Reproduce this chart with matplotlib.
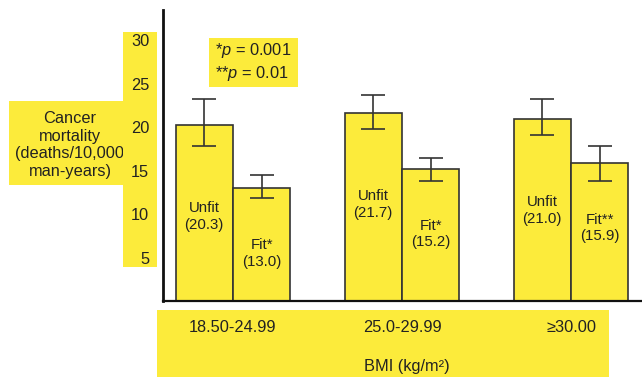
import matplotlib
matplotlib.use("Agg")
import matplotlib.pyplot as plt
from matplotlib.patches import Rectangle

plt.rcParams['font.family'] = ['Liberation Sans', 'DejaVu Sans']
plt.rcParams['mathtext.fontset'] = 'custom'
plt.rcParams['mathtext.it'] = 'Liberation Sans:italic'
plt.rcParams['mathtext.rm'] = 'Liberation Sans'

# ---- data ----
categories = ["18.50-24.99", "25.0-29.99", "\u226530.00"]
unfit = [20.3, 21.7, 21.0]
fit = [13.0, 15.2, 15.9]
unfit_low = [17.9, 19.8, 19.1]
unfit_high = [23.2, 23.7, 23.2]
fit_low = [11.9, 13.8, 13.8]
fit_high = [14.5, 16.5, 17.8]
fit_marks = ["Fit*", "Fit*", "Fit**"]
yticks = [5, 10, 15, 20, 25, 30]

YEL = "#FCEB3B"
TXT = "#222222"
EDGE = "#333333"

W, H = 642, 377
fig = plt.figure(figsize=(W / 100, H / 100), dpi=100)
ax = fig.add_axes([163 / W, 1 - 301 / H, (W - 163) / W, (301 - 10) / H])
ax.patch.set_visible(False)

def px_rect(x0, y0, x1, y1, z):
    r = Rectangle((x0 / W, 1 - y1 / H), (x1 - x0) / W, (y1 - y0) / H,
                  transform=fig.transFigure, facecolor=YEL, edgecolor='none', zorder=z)
    fig.patches.append(r)

# yellow boxes
px_rect(9, 101, 123, 185, -2)      # y label box
px_rect(123, 32, 157, 267, -1)     # tick label box
px_rect(157, 310, 609, 377, -1)    # x label box
px_rect(209, 38, 298, 87, -1)      # p-value box

bw = 0.34
xs = list(range(len(categories)))
xu = [x - bw / 2 for x in xs]
xf = [x + bw / 2 for x in xs]

ax.bar(xu, unfit, width=bw, color=YEL, edgecolor=EDGE, linewidth=1.2, zorder=2)
ax.bar(xf, fit, width=bw, color=YEL, edgecolor=EDGE, linewidth=1.2, zorder=2)

ax.errorbar(xu, unfit, yerr=[[v - lo for v, lo in zip(unfit, unfit_low)],
                             [hi - v for v, hi in zip(unfit, unfit_high)]],
            fmt='none', ecolor=EDGE, elinewidth=1.2, capsize=8.3, capthick=1.2, zorder=3)
ax.errorbar(xf, fit, yerr=[[v - lo for v, lo in zip(fit, fit_low)],
                           [hi - v for v, hi in zip(fit, fit_high)]],
            fmt='none', ecolor=EDGE, elinewidth=1.2, capsize=8.3, capthick=1.2, zorder=3)

for x, v in zip(xu, unfit):
    ax.text(x, v - 10.6, f"Unfit\n({v:.1f})", ha='center', va='center',
            fontsize=10.8, color=TXT, linespacing=1.25, zorder=4)
for x, v, m in zip(xf, fit, fit_marks):
    ax.text(x, v - 7.5, f"{m}\n({v:.1f})", ha='center', va='center',
            fontsize=10.8, color=TXT, linespacing=1.25, zorder=4)

ax.set_xlim(-0.414, 2.420)
ax.set_ylim(0, 33.5)
ax.set_yticks(yticks)
ax.set_yticklabels([str(t) for t in yticks])
ax.tick_params(axis='y', length=0, pad=10, labelsize=11.8, labelcolor=TXT)
ax.set_xticks(xs)
ax.set_xticklabels(categories)
ax.tick_params(axis='x', length=0, pad=14, labelsize=11.8, labelcolor=TXT)

for s in ['top', 'right']:
    ax.spines[s].set_visible(False)
ax.spines['left'].set_linewidth(2.0)
ax.spines['bottom'].set_linewidth(1.6)
ax.spines['left'].set_color('#111111')
ax.spines['bottom'].set_color('#111111')

fig.text(70 / W, 1 - 145 / H, "Cancer\nmortality\n(deaths/10,000\nman-years)",
         ha='center', va='center', fontsize=11.8, color=TXT, linespacing=1.2, zorder=-1.5)
fig.text(407 / W, 1 - 367 / H, "BMI (kg/m\u00b2)", ha='center', va='center',
         fontsize=11.8, color=TXT)
fig.text(215 / W, 1 - 62 / H, "*$p$ = 0.001\n**$p$ = 0.01", ha='left', va='center',
         fontsize=11.8, color=TXT, linespacing=1.3)

fig.savefig("out.png", dpi=100)
